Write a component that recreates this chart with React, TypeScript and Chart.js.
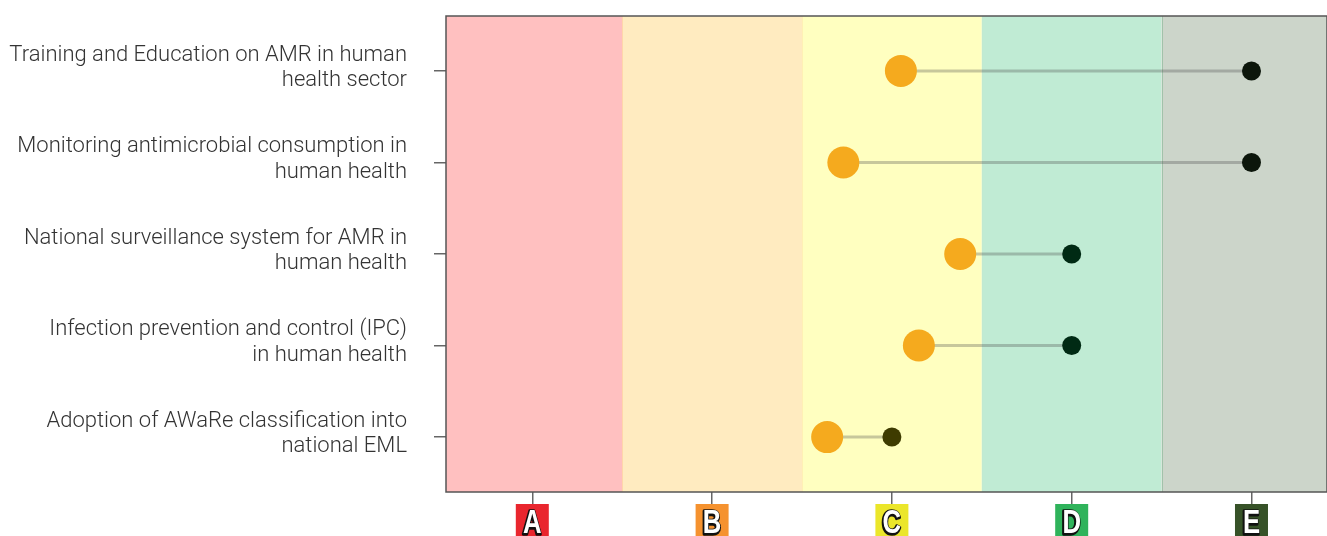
import React, { useEffect, useRef } from "react";
import { Chart, registerables } from "chart.js";

Chart.register(...registerables);

const indicatorLabels: string[][] = [
  ["Training and Education on AMR in human", "health sector"],
  ["Monitoring antimicrobial consumption in", "human health"],
  ["National surveillance system for AMR in", "human health"],
  ["Infection prevention and control (IPC)", "in human health"],
  ["Adoption of AWaRe classification into", "national EML"],
];
const currentValues = [3.05, 2.73, 3.38, 3.15, 2.64];
const targetValues = [5, 5, 4, 4, 3];
const targetDotColors = ["#0c160b", "#0c160b", "#002a14", "#002a14", "#3e3b00"];
const levelLabels = ["A", "B", "C", "D", "E"];
const levelBandColors = ["#ffc0c0", "#ffebc0", "#ffffc0", "#c0ebd4", "#ccd5ca"];
const levelBoxColors = ["#e9262e", "#f5922f", "#ebe62a", "#2fb35b", "#375228"];

const bandsPlugin = {
  id: "bands",
  beforeDatasetsDraw(chart: any) {
    const { ctx, chartArea, scales } = chart;
    const x = scales.x;
    ctx.save();
    ctx.beginPath();
    ctx.rect(chartArea.left, chartArea.top, chartArea.right - chartArea.left, chartArea.bottom - chartArea.top);
    ctx.clip();
    levelBandColors.forEach((c, i) => {
      const l = x.getPixelForValue(i + 0.5);
      const r = x.getPixelForValue(i + 1.5);
      ctx.fillStyle = c;
      ctx.fillRect(l, chartArea.top, r - l, chartArea.bottom - chartArea.top);
    });
    const boundaryColors = ["rgba(255,200,150,0.6)", "rgba(255,225,170,0.5)", "rgba(200,230,200,0.3)", "rgba(110,170,130,0.45)"];
    boundaryColors.forEach((c, i) => {
      const bx = Math.round(x.getPixelForValue(i + 1.5)) + 0.5;
      ctx.strokeStyle = c;
      ctx.lineWidth = 1;
      ctx.beginPath();
      ctx.moveTo(bx, chartArea.top);
      ctx.lineTo(bx, chartArea.bottom);
      ctx.stroke();
    });
    ctx.restore();
    ctx.save();
    ctx.strokeStyle = "#555555";
    ctx.lineWidth = 1.5;
    ctx.strokeRect(chartArea.left, chartArea.top, chartArea.right - chartArea.left, chartArea.bottom - chartArea.top);
    ctx.restore();
  },
  afterDraw(chart: any) {
    const { ctx, scales, chartArea } = chart;
    const x = scales.x;
    ctx.save();
    levelLabels.forEach((lab, i) => {
      const cx = x.getPixelForValue(i + 1);
      const top = chartArea.bottom + 12;
      ctx.fillStyle = levelBoxColors[i];
      ctx.fillRect(cx - 16.5, top, 33, 40);
      ctx.save();
      ctx.translate(cx, top + 29);
      ctx.scale(0.78, 1);
      ctx.font = "bold 33px 'Liberation Sans', sans-serif";
      ctx.textAlign = "center";
      ctx.textBaseline = "alphabetic";
      ctx.lineJoin = "round";
      ctx.strokeStyle = "#111111";
      ctx.lineWidth = 3.5;
      ctx.strokeText(lab, -0.8, 0.5);
      ctx.fillStyle = "#ffffff";
      ctx.fillText(lab, 0, 0);
      ctx.restore();
    });
    ctx.restore();
  },
};

export default function App() {
  const ref = useRef<HTMLCanvasElement>(null);
  useEffect(() => {
    document.body.style.margin = "0";
    const canvas = ref.current!;
    const lineDatasets = currentValues.map((v, i) => ({
      type: "line" as const,
      data: [
        { x: v, y: i + 1 },
        { x: targetValues[i], y: i + 1 },
      ],
      borderColor: "rgba(70,70,70,0.3)",
      borderWidth: 3,
      pointRadius: 0,
      showLine: true,
      order: 3,
    }));
    const chart = new Chart(canvas, {
      type: "scatter",
      data: {
        datasets: [
          {
            type: "scatter",
            data: targetValues.map((v, i) => ({ x: v, y: i + 1 })),
            backgroundColor: targetDotColors,
            borderWidth: 0,
            pointRadius: 9.5,
            order: 1,
          },
          {
            type: "scatter",
            data: currentValues.map((v, i) => ({ x: v, y: i + 1 })),
            backgroundColor: "#f5aa1e",
            borderWidth: 0,
            pointRadius: 16,
            order: 2,
          },
          ...lineDatasets,
        ] as any,
      },
      options: {
        animation: false,
        responsive: false,
        devicePixelRatio: 1,
        layout: { autoPadding: false, padding: { top: 16, right: 0, left: 0, bottom: 0 } },
        plugins: { legend: { display: false }, tooltip: { enabled: false } },
        scales: {
          x: {
            type: "linear",
            min: 0.52,
            max: 5.42,
            afterBuildTicks: (s: any) => {
              s.ticks = levelLabels.map((_, i) => ({ value: i + 1 }));
            },
            afterFit: (s: any) => {
              s.height = 44;
              s.paddingLeft = 0;
              s.paddingRight = 0;
              s.paddingTop = 0;
              s.paddingBottom = 0;
            },
            ticks: { callback: () => "", padding: 0 },
            grid: { drawOnChartArea: false, drawTicks: true, tickLength: 12, color: "#666666", lineWidth: 1.5 },
            border: { display: false },
          },
          y: {
            type: "linear",
            reverse: true,
            min: 0.4,
            max: 5.6,
            afterBuildTicks: (s: any) => {
              s.ticks = indicatorLabels.map((_, i) => ({ value: i + 1 }));
            },
            afterFit: (s: any) => {
              s.width = 446;
              s.paddingTop = 0;
              s.paddingBottom = 0;
              s.paddingLeft = 0;
              s.paddingRight = 0;
            },
            ticks: {
              callback: (v: any) => indicatorLabels[Math.round(v) - 1] as any,
              padding: 27,
              labelOffset: -3,
              color: "#333333",
              font: { family: "Roboto", size: 22, weight: "300", lineHeight: 1.14 },
            },
            grid: { drawOnChartArea: false, drawTicks: true, tickLength: 12, color: "#666666", lineWidth: 1.5 },
            border: { display: false },
          },
        },
      },
      plugins: [bandsPlugin],
    });
    return () => chart.destroy();
  }, []);
  return (
    <div style={{ width: 1327, height: 536 }}>
      <canvas ref={ref} width={1327} height={536} />
    </div>
  );
}
